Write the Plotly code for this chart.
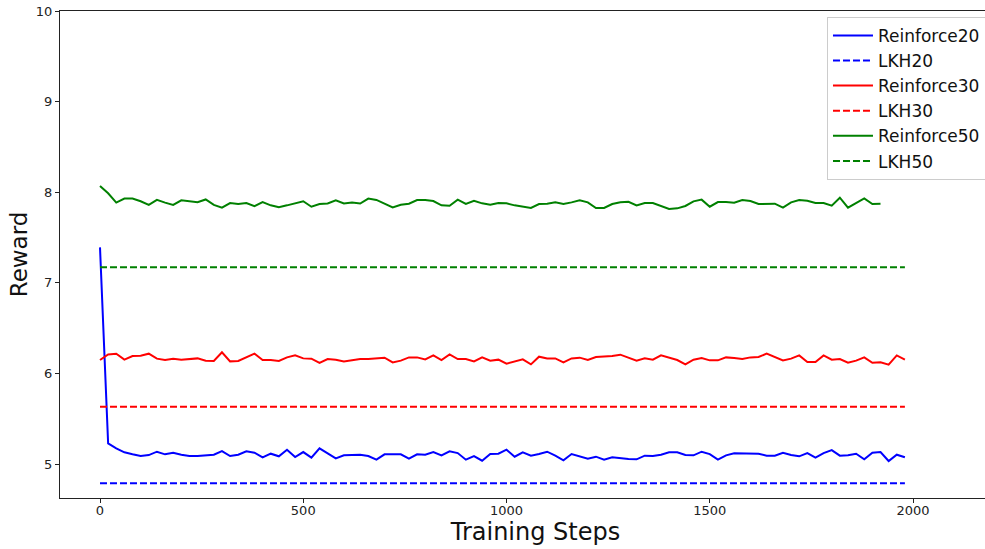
import plotly.graph_objects as go

step = 20
reinforce20 = [7.391, 5.228, 5.173, 5.129, 5.107, 5.088, 5.099, 5.136, 5.107, 5.125, 5.103, 5.088, 5.088, 5.099, 5.103, 5.143, 5.088, 5.103, 5.140, 5.125, 5.074, 5.114, 5.085, 5.158, 5.077, 5.132, 5.070, 5.173, 5.118, 5.063, 5.096, 5.096, 5.103, 5.088, 5.048,
               5.107, 5.107, 5.107, 5.059, 5.107, 5.103, 5.132, 5.096, 5.140, 5.121, 5.048, 5.088, 5.037, 5.110, 5.114, 5.158, 5.081, 5.129, 5.092, 5.110, 5.136, 5.092, 5.040, 5.110, 5.085, 5.059, 5.081, 5.048, 5.074, 5.063, 5.055, 5.052, 5.092, 5.088, 5.103, 5.129, 5.130,
               5.099, 5.096, 5.136, 5.110, 5.048, 5.096, 5.118, 5.118, 5.110, 5.114, 5.092, 5.092, 5.125, 5.099, 5.085, 5.121, 5.070, 5.121, 5.154, 5.092, 5.096, 5.114, 5.052, 5.125, 5.132, 5.033, 5.103, 5.074]
reinforce30 = [6.148, 6.210, 6.218, 6.152, 6.192, 6.196, 6.218, 6.163, 6.148, 6.163, 6.152, 6.159, 6.166, 6.141, 6.137, 6.233, 6.133, 6.137, 6.174, 6.218, 6.148, 6.148, 6.137, 6.177, 6.199, 6.166, 6.163, 6.115, 6.159, 6.152, 6.133, 6.148, 6.159, 6.159, 6.166,
               6.174, 6.122, 6.141, 6.177, 6.177, 6.155, 6.199, 6.148, 6.210, 6.159, 6.159, 6.133, 6.177, 6.141, 6.152, 6.107, 6.130, 6.155, 6.100, 6.185, 6.166, 6.166, 6.122, 6.166, 6.174, 6.148, 6.181, 6.185, 6.192, 6.207, 6.170, 6.141, 6.166, 6.152, 6.199, 6.174, 6.148,
               6.100, 6.152, 6.170, 6.144, 6.144, 6.177, 6.170, 6.159, 6.177, 6.181, 6.218, 6.177, 6.144, 6.163, 6.199, 6.126, 6.126, 6.199, 6.152, 6.159, 6.118, 6.141, 6.177, 6.118, 6.122, 6.096, 6.199, 6.152]
reinforce50 = [8.068, 7.988, 7.885, 7.93, 7.93, 7.90, 7.86, 7.915, 7.885, 7.86, 7.91, 7.90, 7.89, 7.92, 7.86, 7.83, 7.88, 7.87, 7.88, 7.845, 7.89, 7.855, 7.835, 7.855, 7.875, 7.90, 7.84, 7.87, 7.875, 7.91, 7.875, 7.885, 7.875, 7.93, 7.915,
               7.877,
               7.833, 7.862, 7.873, 7.913, 7.913, 7.902, 7.855, 7.851, 7.918, 7.870, 7.906, 7.877, 7.862, 7.881, 7.877, 7.855, 7.844, 7.826, 7.870, 7.873, 7.888, 7.870, 7.888, 7.910, 7.888, 7.826, 7.826, 7.870, 7.888, 7.895, 7.855, 7.881, 7.881, 7.848, 7.815, 7.822,
               7.848, 7.899, 7.918, 7.840, 7.891, 7.891, 7.884, 7.913, 7.902, 7.870, 7.870, 7.873, 7.829, 7.888, 7.913, 7.906, 7.881, 7.881, 7.851, 7.939, 7.829, 7.884, 7.932, 7.870, 7.873]
lkh20 = 4.787
lkh30 = 5.633
lkh50 = 7.171
lkh_steps = [0, 1980]

x20 = [i * step for i in range(len(reinforce20))]
x30 = [i * step for i in range(len(reinforce30))]
x50 = [i * step for i in range(len(reinforce50))]

dash = "7px,3px"
fig = go.Figure()
fig.add_trace(go.Scatter(x=x20, y=reinforce20, mode="lines", name="Reinforce20",
                         line=dict(color="#0000ff", width=2)))
fig.add_trace(go.Scatter(x=lkh_steps, y=[lkh20, lkh20], mode="lines", name="LKH20",
                         line=dict(color="#0000ff", width=2, dash=dash)))
fig.add_trace(go.Scatter(x=x30, y=reinforce30, mode="lines", name="Reinforce30",
                         line=dict(color="#ff0000", width=2)))
fig.add_trace(go.Scatter(x=lkh_steps, y=[lkh30, lkh30], mode="lines", name="LKH30",
                         line=dict(color="#ff0000", width=2, dash=dash)))
fig.add_trace(go.Scatter(x=x50, y=reinforce50, mode="lines", name="Reinforce50",
                         line=dict(color="#008000", width=2)))
fig.add_trace(go.Scatter(x=lkh_steps, y=[lkh50, lkh50], mode="lines", name="LKH50",
                         line=dict(color="#008000", width=2, dash=dash)))

axis_common = dict(showline=True, linecolor="#222", linewidth=1, mirror=True,
                   showgrid=False, zeroline=False, ticks="outside", ticklen=4,
                   tickcolor="#222", tickfont=dict(size=13, color="#222"))
fig.update_layout(
    width=1012, height=549,
    margin=dict(l=60, r=1, t=11, b=51),
    paper_bgcolor="white", plot_bgcolor="white",
    font=dict(family="DejaVu Sans", color="#111"),
    xaxis=dict(range=[-98.4, 2241], tickvals=[0, 500, 1000, 1500, 2000],
               ticklabelstandoff=-4,
               title=dict(text="Training Steps", font=dict(size=24), standoff=2),
               **axis_common),
    yaxis=dict(range=[4.625, 10], tickvals=[5, 6, 7, 8, 9, 10],
               title=dict(text="Reward", font=dict(size=23), standoff=1),
               **axis_common),
    legend=dict(x=0.8065, xanchor="left", y=0.988, yanchor="top",
                font=dict(size=17), bgcolor="white", bordercolor="#cccccc",
                borderwidth=1, itemwidth=40),
    showlegend=True,
)
fig.write_html("out.html", config={"displayModeBar": False},
               post_script="document.body.style.margin='0';document.body.style.overflow='hidden';")
